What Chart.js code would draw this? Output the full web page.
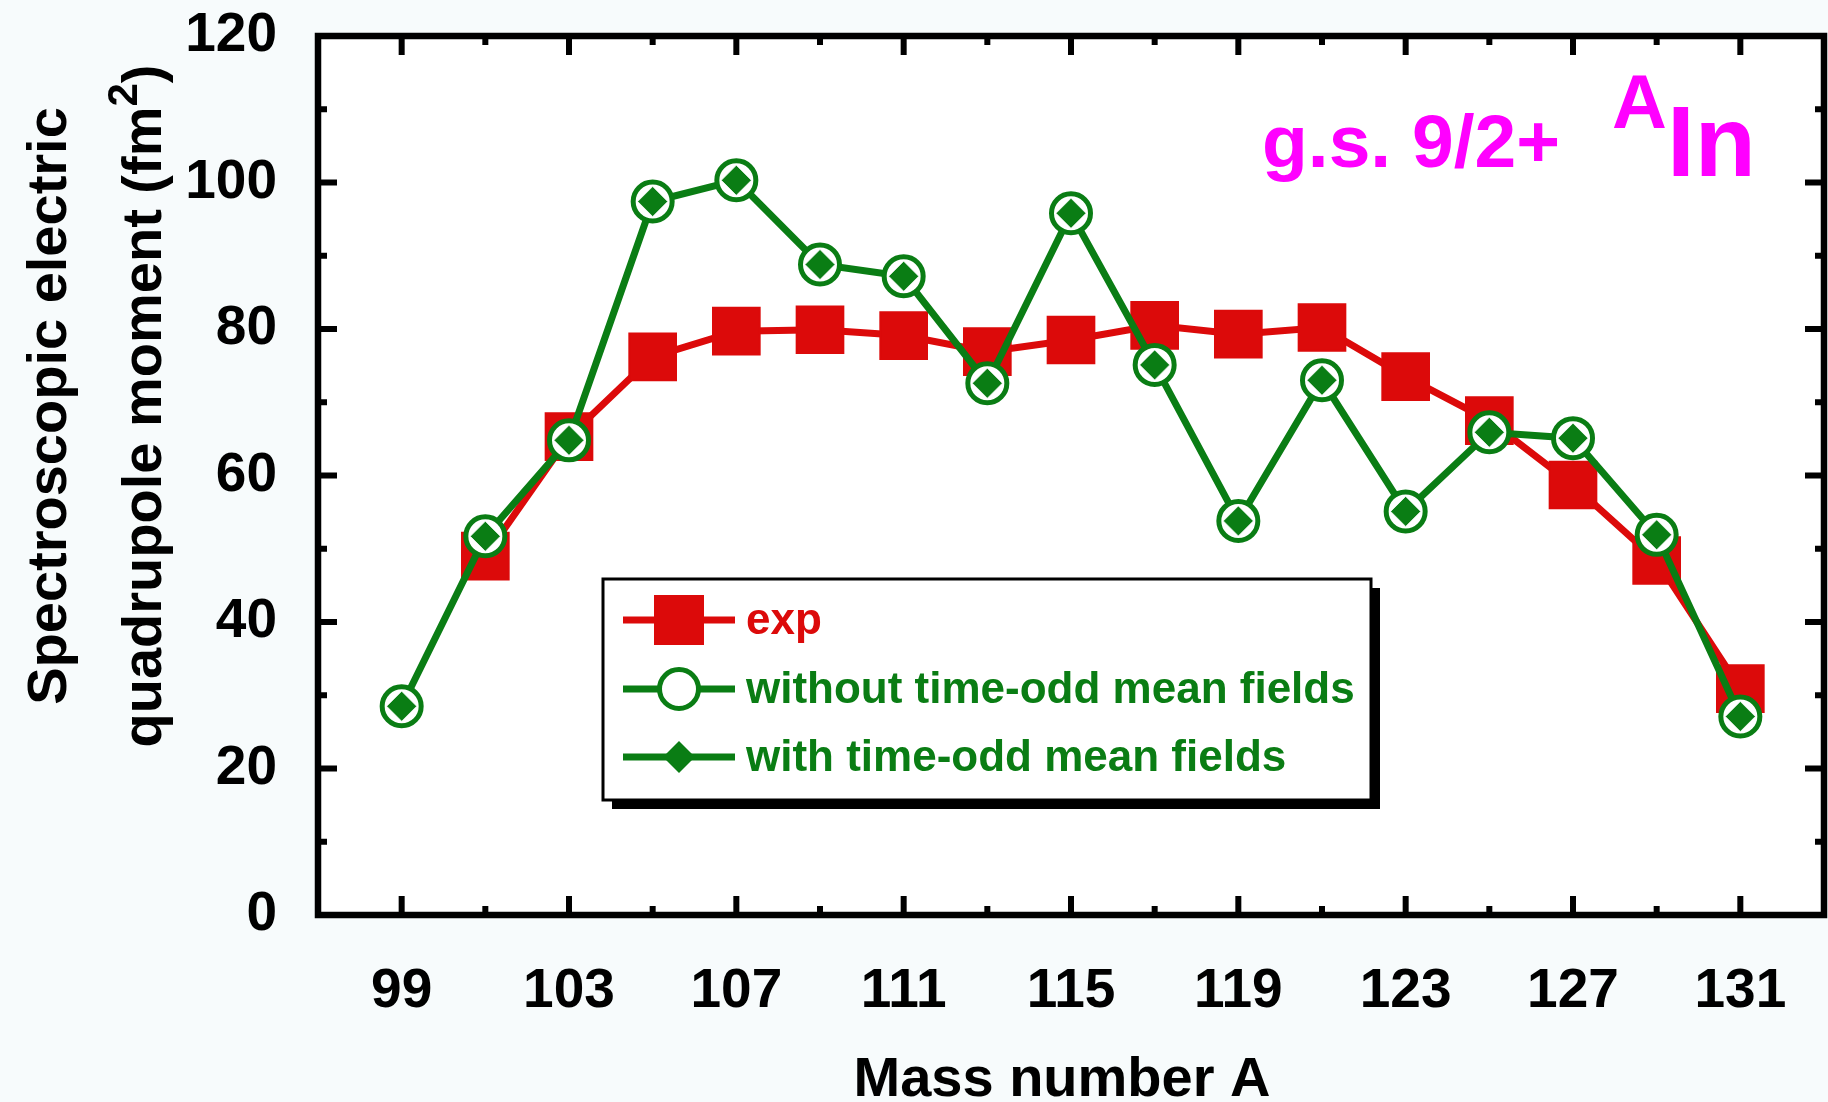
<!DOCTYPE html>
<html>
<head>
<meta charset="utf-8">
<script src="https://cdn.jsdelivr.net/npm/chart.js@4.4.1/dist/chart.umd.min.js"></script>
<style>
  html, body { margin: 0; padding: 0; background: #f7fbfc; }
  #wrap { width: 1828px; height: 1102px; }
</style>
</head>
<body>
<div id="wrap"><canvas id="chart" width="1828" height="1102"></canvas></div>
<script>
// mass numbers of the In isotopes
const massNumbers = [99, 101, 103, 105, 107, 109, 111, 113, 115, 117, 119, 121, 123, 125, 127, 129, 131];

// experimental values (no point at A=99)
const expValues = [null, 49.0, 65.3, 76.2, 79.7, 79.9, 79.1, 76.9, 78.5, 80.5, 79.3, 80.2, 73.5, 67.5, 58.7, 48.4, 30.9];

// calculations without / with time-odd mean fields (they coincide on the plot)
const withoutTimeOdd = [28.5, 51.7, 64.8, 97.4, 100.3, 88.8, 87.2, 72.6, 95.8, 75.1, 53.8, 73.0, 55.1, 65.9, 65.1, 51.9, 27.1];
const withTimeOdd    = [28.5, 51.7, 64.8, 97.4, 100.3, 88.8, 87.2, 72.6, 95.8, 75.1, 53.8, 73.0, 55.1, 65.9, 65.1, 51.9, 27.1];

const xLabelTicks = [99, 103, 107, 111, 115, 119, 123, 127, 131];
const yLabelTicks = [0, 20, 40, 60, 80, 100, 120];

const RED = "#dc0a0a";
const GREEN = "#0a7d14";
const MAGENTA = "#ff00ff";
const FONT = "'Liberation Sans', Arial, sans-serif";

const toPoints = vals => massNumbers.map((a, i) => ({ x: a, y: vals[i] })).filter(p => p.y !== null);

// frame, inward ticks, titles, legend and label
const decorPlugin = {
  id: "decor",
  beforeDraw(chart) {
    const { ctx, chartArea: a } = chart;
    ctx.save();
    ctx.fillStyle = "#f7fbfc";
    ctx.fillRect(0, 0, chart.width, chart.height);
    ctx.fillStyle = "#ffffff";
    ctx.fillRect(a.left, a.top, a.right - a.left, a.bottom - a.top);
    ctx.restore();
  },
  beforeDatasetsDraw(chart) {
    const { ctx, chartArea: a, scales } = chart;
    const xs = scales.x, ys = scales.y;
    ctx.save();
    ctx.strokeStyle = "#000";
    ctx.lineWidth = 6;
    ctx.beginPath();
    // x ticks, bottom and top
    for (let v = 99; v <= 131; v += 2) {
      const px = xs.getPixelForValue(v);
      const len = xLabelTicks.includes(v) ? 19 : 9;
      ctx.moveTo(px, a.bottom); ctx.lineTo(px, a.bottom - len);
      ctx.moveTo(px, a.top); ctx.lineTo(px, a.top + len);
    }
    // y ticks, left and right
    for (let v = 10; v < 120; v += 10) {
      const py = ys.getPixelForValue(v);
      const len = yLabelTicks.includes(v) ? 19 : 9;
      ctx.moveTo(a.left, py); ctx.lineTo(a.left + len, py);
      ctx.moveTo(a.right, py); ctx.lineTo(a.right - len, py);
    }
    ctx.stroke();
    ctx.lineWidth = 6.5;
    ctx.strokeRect(a.left, a.top, a.right - a.left, a.bottom - a.top);
    ctx.restore();
  },
  afterDraw(chart) {
    const { ctx } = chart;
    ctx.save();

    // x title
    ctx.fillStyle = "#000";
    ctx.font = "bold 56px " + FONT;
    ctx.textAlign = "center";
    ctx.textBaseline = "alphabetic";
    ctx.fillText("Mass number A", 1062, 1096);

    // y title, two lines, rotated
    ctx.save();
    ctx.translate(66, 406);
    ctx.rotate(-Math.PI / 2);
    ctx.fillText("Spectroscopic electric", 0, 0);
    ctx.restore();

    ctx.save();
    ctx.translate(161, 406);
    ctx.rotate(-Math.PI / 2);
    ctx.textAlign = "left";
    const p1 = "quadrupole moment (fm", sup = "2", p2 = ")";
    ctx.font = "bold 56px " + FONT;
    const w1 = ctx.measureText(p1).width, w3 = ctx.measureText(p2).width;
    ctx.font = "bold 42px " + FONT;
    const w2 = ctx.measureText(sup).width;
    let x0 = -(w1 + w2 + w3) / 2;
    ctx.font = "bold 56px " + FONT;
    ctx.fillText(p1, x0, 0);
    ctx.font = "bold 42px " + FONT;
    ctx.fillText(sup, x0 + w1, -24);
    ctx.font = "bold 56px " + FONT;
    ctx.fillText(p2, x0 + w1 + w2, 0);
    ctx.restore();

    // annotation
    ctx.fillStyle = MAGENTA;
    ctx.textAlign = "left";
    ctx.font = "bold 75px " + FONT;
    ctx.fillText("g.s. 9/2+", 1262, 167);
    ctx.font = "bold 76px " + FONT;
    ctx.fillText("A", 1612, 128);
    ctx.font = "bold 100px " + FONT;
    ctx.fillText("In", 1667, 176);

    // legend box with shadow
    const bx = 603, by = 579, bw = 768, bh = 221;
    ctx.fillStyle = "#000";
    ctx.fillRect(bx + 9, by + 9, bw, bh);
    ctx.fillStyle = "#fff";
    ctx.fillRect(bx, by, bw, bh);
    ctx.strokeStyle = "#000";
    ctx.lineWidth = 3;
    ctx.strokeRect(bx, by, bw, bh);

    const rows = [
      { y: 620, color: RED, text: "exp", marker: "square" },
      { y: 689, color: GREEN, text: "without time-odd mean fields", marker: "circle" },
      { y: 757, color: GREEN, text: "with time-odd mean fields", marker: "diamond" }
    ];
    rows.forEach(r => {
      ctx.strokeStyle = r.color;
      ctx.lineWidth = 7;
      ctx.beginPath();
      ctx.moveTo(623, r.y); ctx.lineTo(735, r.y);
      ctx.stroke();
      const mx = 679;
      if (r.marker === "square") {
        ctx.fillStyle = r.color;
        ctx.fillRect(mx - 25, r.y - 25, 50, 50);
      } else if (r.marker === "circle") {
        ctx.fillStyle = "#fff";
        ctx.lineWidth = 5;
        ctx.beginPath();
        ctx.arc(mx, r.y, 19.5, 0, Math.PI * 2);
        ctx.fill(); ctx.stroke();
      } else {
        ctx.fillStyle = r.color;
        ctx.beginPath();
        ctx.moveTo(mx, r.y - 16); ctx.lineTo(mx + 16, r.y);
        ctx.lineTo(mx, r.y + 16); ctx.lineTo(mx - 16, r.y);
        ctx.closePath();
        ctx.fill();
      }
      ctx.fillStyle = r.color;
      ctx.font = "bold 44px " + FONT;
      ctx.textBaseline = "middle";
      ctx.fillText(r.text, 746, r.y + 2);
      ctx.textBaseline = "alphabetic";
    });

    ctx.restore();
  }
};

new Chart(document.getElementById("chart"), {
  type: "line",
  data: {
    datasets: [
      {
        label: "with time-odd mean fields",
        data: toPoints(withTimeOdd),
        showLine: false,
        pointStyle: "rectRot",
        pointRadius: 15,
        pointBackgroundColor: GREEN,
        pointBorderColor: "rgba(255,255,255,0.7)",
        pointBorderWidth: 1,
        order: 0
      },
      {
        label: "without time-odd mean fields",
        data: toPoints(withoutTimeOdd),
        borderColor: GREEN,
        borderWidth: 7,
        pointStyle: "circle",
        pointRadius: 19.5,
        pointBackgroundColor: "#fff",
        pointBorderColor: GREEN,
        pointBorderWidth: 5,
        order: 1
      },
      {
        label: "exp",
        data: toPoints(expValues),
        borderColor: RED,
        borderWidth: 7,
        pointStyle: "rect",
        pointRadius: 33,
        pointBackgroundColor: RED,
        pointBorderColor: RED,
        pointBorderWidth: 2,
        order: 2
      }
    ]
  },
  options: {
    responsive: false,
    animation: false,
    layout: { autoPadding: false, padding: { top: 36, right: 4, left: 0, bottom: 0 } },
    plugins: { legend: { display: false }, tooltip: { enabled: false } },
    elements: { line: { tension: 0 } },
    scales: {
      x: {
        type: "linear",
        min: 97,
        max: 133,
        grid: { display: false, drawTicks: false },
        border: { display: false },
        afterFit: s => { s.height = 187; s.paddingLeft = 0; s.paddingRight = 0; },
        afterBuildTicks: s => { s.ticks = xLabelTicks.map(v => ({ value: v })); },
        ticks: {
          autoSkip: false,
          maxRotation: 0,
          padding: 44,
          color: "#000",
          font: { family: FONT, size: 55, weight: "bold" }
        }
      },
      y: {
        min: 0,
        max: 120,
        grid: { display: false, drawTicks: false },
        border: { display: false },
        afterFit: s => { s.width = 318; s.paddingTop = 0; s.paddingBottom = 0; },
        afterBuildTicks: s => { s.ticks = yLabelTicks.map(v => ({ value: v })); },
        ticks: {
          padding: 41,
          color: "#000",
          font: { family: FONT, size: 55, weight: "bold" }
        }
      }
    }
  },
  plugins: [decorPlugin]
});
</script>
</body>
</html>
